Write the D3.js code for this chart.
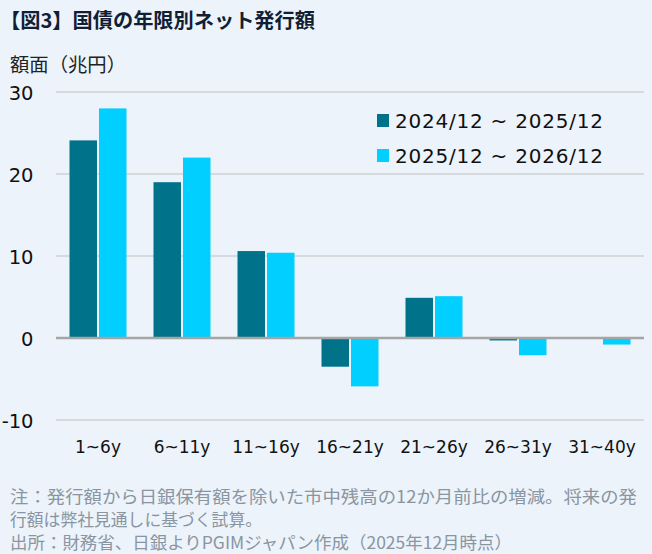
<!DOCTYPE html>
<html><head><meta charset="utf-8">
<script src="https://cdn.jsdelivr.net/npm/d3@7"></script>
<style>
html,body{margin:0;padding:0;background:#ECF3FA;}
svg{display:block;}
</style></head>
<body>
<svg id="c" width="652" height="554"></svg>
<script>
const categories = ["1~6y","6~11y","11~16y","16~21y","21~26y","26~31y","31~40y"];
const seriesNames = ["2024/12 ~ 2025/12","2025/12 ~ 2026/12"];
const series1 = [24.1, 19.0, 10.6, -3.5, 4.9, -0.3, 0];
const series2 = [28.0, 22.0, 10.4, -5.9, 5.1, -2.1, -0.8];
const yTicks = [30, 20, 10, 0, -10];
const colors = ["#00728A", "#00CFFF"];
const title = "【図3】国債の年限別ネット発行額";
const yTitle = "額面（兆円）";
const notes = ["注：発行額から日銀保有額を除いた市中残高の12か月前比の増減。将来の発",
               "行額は弊社見通しに基づく試算。",
               "出所：財務省、日銀よりPGIMジャパン作成（2025年12月時点）"];

const svg = d3.select("#c");
svg.append("rect").attr("width",652).attr("height",554).attr("fill","#ECF3FA");

const x = d3.scaleBand().domain(categories).range([56, 644]);
const y = d3.scaleLinear().domain([-10, 30]).range([420, 92]);
const bw = 27.5, gap = 2;

// gridlines
svg.append("g").selectAll("line").data(yTicks.filter(d=>d!==0)).join("line")
  .attr("x1",56).attr("x2",644).attr("y1",d=>y(d)).attr("y2",d=>y(d))
  .attr("stroke","#D6DADD").attr("stroke-width",2);

// y axis labels
const yAxis = d3.axisLeft(y).tickValues(yTicks).tickFormat(d=>String(d)).tickSize(0).tickPadding(0);
const ga = svg.append("g").attr("transform","translate(33.5,0)").call(yAxis);
ga.select(".domain").remove();
ga.selectAll("text").attr("font-family","DejaVu Sans, Verdana, sans-serif").attr("font-size",19.5).attr("fill","#111").attr("dy","0.36em");

// bars
const data = categories.map((c,i)=>({c, v:[series1[i], series2[i]]}));
const g = svg.append("g");
[0,1].forEach(s=>{
  g.selectAll(".b"+s).data(data).join("rect")
    .attr("x", d=> x(d.c) + x.bandwidth()/2 - bw - gap/2 + s*(bw+gap))
    .attr("width", bw)
    .attr("y", d=> y(Math.max(0,d.v[s])))
    .attr("height", d=> Math.abs(y(d.v[s]) - y(0)))
    .attr("fill", colors[s]);
});

// zero line
svg.append("line").attr("x1",56).attr("x2",644).attr("y1",y(0)).attr("y2",y(0))
  .attr("stroke","#A5A5A5").attr("stroke-width",2.5);

// x labels
const xAxis = d3.axisBottom(x).tickSize(0).tickPadding(0);
const gx = svg.append("g").attr("transform","translate(0,453)").call(xAxis);
gx.select(".domain").remove();
gx.selectAll("text").attr("dy",0).attr("font-family","DejaVu Sans, Verdana, sans-serif").attr("font-size",17).attr("fill","#111");

// legend
const lg = svg.append("g");
seriesNames.forEach((n,i)=>{
  lg.append("rect").attr("x",377).attr("y",114+i*35).attr("width",12).attr("height",13).attr("fill",colors[i]);
  lg.append("text").attr("x",395).attr("y",128+i*35).text(n)
    .attr("font-family","DejaVu Sans, Verdana, sans-serif").attr("font-size",20).attr("fill","#111")
    .attr("textLength",208).attr("lengthAdjust","spacing");
});

// title
svg.append("text").attr("x",0).attr("y",28).text(title)
  .attr("font-family","Noto Sans CJK JP").attr("font-weight","bold").attr("font-size",20)
  .attr("fill","#111E36").attr("textLength",315).attr("lengthAdjust","spacingAndGlyphs");

// y title
svg.append("text").attr("x",10).attr("y",72).text(yTitle)
  .attr("font-family","Noto Sans CJK JP").attr("font-size",19).attr("fill","#222")
  .attr("textLength",116).attr("lengthAdjust","spacingAndGlyphs");

// notes
const nl = [627, 252, 502];
notes.forEach((t,i)=>{
  svg.append("text").attr("x",10).attr("y",503+i*23).text(t)
    .attr("font-family","Noto Sans CJK JP").attr("font-size",17).attr("fill","#8A95A1")
    .attr("textLength",nl[i]).attr("lengthAdjust","spacingAndGlyphs");
});
</script>
</body></html>
